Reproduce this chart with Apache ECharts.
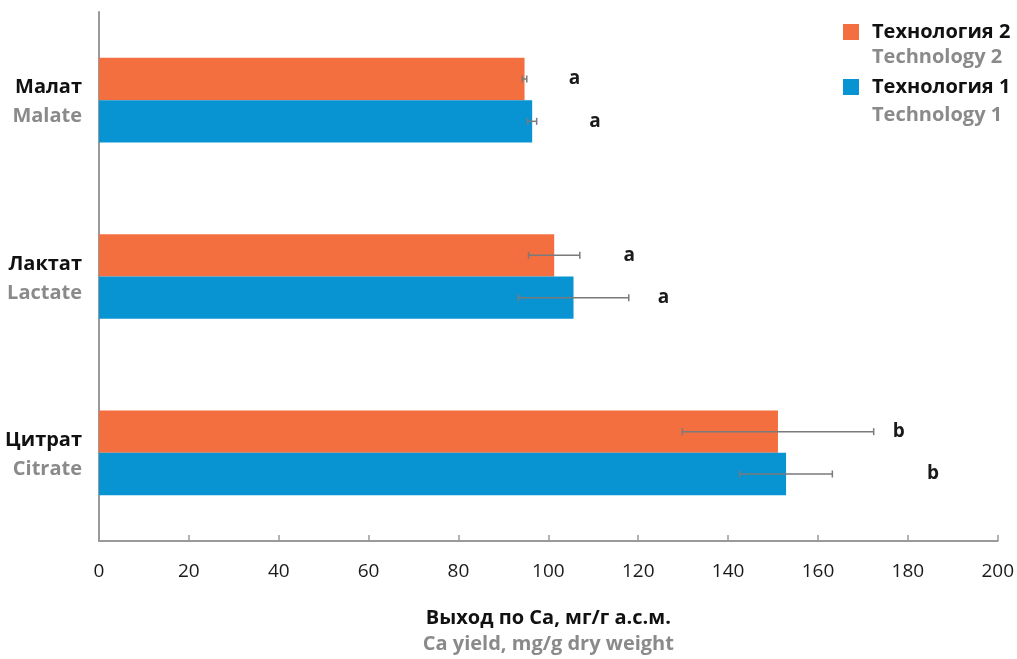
<!DOCTYPE html>
<html>
<head>
<meta charset="utf-8">
<script src="https://cdn.jsdelivr.net/npm/echarts@6/dist/echarts.min.js"></script>
<style>
html,body{margin:0;padding:0;background:#fff;}
#chart{width:1017px;height:659px;}
</style>
</head>
<body>
<div id="chart"></div>
<script>
// ---- data ----
const categoriesRu = ['Малат', 'Лактат', 'Цитрат'];
const categoriesEn = ['Malate', 'Lactate', 'Citrate'];
const seriesNamesRu = ['Технология 2', 'Технология 1'];
const seriesNamesEn = ['Technology 2', 'Technology 1'];
const tech2 = [94.7, 101.3, 151.1];
const tech2Err = [0.5, 5.7, 21.3];
const tech1 = [96.4, 105.6, 152.9];
const tech1Err = [1.0, 12.3, 10.3];
const tech2Letters = ['a', 'a', 'b'];
const tech2LetterPos = [105.8, 118, 178];
const tech1Letters = ['a', 'a', 'b'];
const tech1LetterPos = [110.4, 125.6, 185.6];
const xTicks = [0, 20, 40, 60, 80, 100, 120, 140, 160, 180, 200];
const axisTitleRu = 'Выход по Ca, мг/г а.с.м.';
const axisTitleEn = 'Ca yield, mg/g dry weight';

const ORANGE = '#F36F3F';
const BLUE = '#0893D2';
const FONT = '"Open Sans", "Noto Sans", sans-serif';
const BAND_OFFSET = 0.12; // fraction of category band between bar centers and band center

function errData(vals, errs) {
  return vals.map((v, i) => [v, errs[i], i]);
}
function letterData(pos, letters) {
  return pos.map((p, i) => [p, i, letters[i]]);
}

function makeErrRender(sign) {
  return function (params, api) {
    const v = api.value(0), e = api.value(1), idx = api.value(2);
    const band = api.size([0, 1])[1];
    const lo = api.coord([v - e, idx]);
    const hi = api.coord([v + e, idx]);
    const y = lo[1] + sign * band * BAND_OFFSET;
    const cap = 3.5;
    const style = { stroke: '#7a7a7a', lineWidth: 1.5 };
    return {
      type: 'group',
      children: [
        { type: 'line', shape: { x1: lo[0], y1: y, x2: hi[0], y2: y }, style },
        { type: 'line', shape: { x1: lo[0], y1: y - cap, x2: lo[0], y2: y + cap }, style },
        { type: 'line', shape: { x1: hi[0], y1: y - cap, x2: hi[0], y2: y + cap }, style }
      ]
    };
  };
}
function makeLetterRender(sign) {
  return function (params, api) {
    const p = api.coord([api.value(0), api.value(1)]);
    const band = api.size([0, 1])[1];
    return {
      type: 'text',
      style: {
        x: p[0], y: p[1] + sign * band * BAND_OFFSET,
        text: api.value(2),
        fill: '#1a1a1a', font: 'bold 19px ' + FONT,
        align: 'center', verticalAlign: 'middle'
      }
    };
  };
}

const chart = echarts.init(document.getElementById('chart'), null, { renderer: 'canvas' });
chart.setOption({
  backgroundColor: '#fff',
  animation: false,
  grid: { left: 99, right: 18, top: 12, bottom: 112, containLabel: false },
  legend: {
    data: seriesNamesRu,
    orient: 'vertical',
    left: 843, top: 21,
    padding: 0,
    itemWidth: 16, itemHeight: 16, itemGap: 33,
    icon: 'rect',
    textStyle: { fontFamily: FONT, fontWeight: 'bold', fontSize: 20, color: '#111', lineHeight: 22, padding: [0, 0, 0, 8] }
  },
  graphic: [
    { type: 'text', x: 872, y: 57, style: { text: seriesNamesEn[0], font: 'bold 20px ' + FONT, fill: '#8a8a8a', verticalAlign: 'middle' } },
    { type: 'text', x: 872, y: 115, style: { text: seriesNamesEn[1], font: 'bold 20px ' + FONT, fill: '#8a8a8a', verticalAlign: 'middle' } }
  ],
  xAxis: {
    type: 'value',
    min: xTicks[0], max: xTicks[xTicks.length - 1], interval: xTicks[1] - xTicks[0],
    axisLine: { show: true, lineStyle: { color: '#9a9a9a', width: 2 } },
    axisTick: { show: true, inside: true, length: 6, lineStyle: { color: '#9a9a9a', width: 1.5 } },
    splitLine: { show: false },
    axisLabel: { margin: 21, fontFamily: FONT, fontSize: 19, color: '#1a1a1a' },
    name: '{a|' + axisTitleRu + '}\n{b|' + axisTitleEn + '}',
    nameLocation: 'middle',
    nameGap: 64,
    nameTextStyle: {
      rich: {
        a: { fontFamily: FONT, fontWeight: 'bold', fontSize: 20, color: '#111', lineHeight: 26 },
        b: { fontFamily: FONT, fontWeight: 'bold', fontSize: 20, color: '#8a8a8a', lineHeight: 26 }
      }
    }
  },
  yAxis: {
    type: 'category',
    data: categoriesRu,
    inverse: true,
    axisLine: { show: true, lineStyle: { color: '#9a9a9a', width: 2 } },
    axisTick: { show: false },
    axisLabel: {
      margin: 17,
      align: 'right',
      padding: [4, 0, 0, 0],
      formatter: (v, i) => '{a|' + v + '}\n{b|' + categoriesEn[i] + '}',
      rich: {
        a: { fontFamily: FONT, fontWeight: 'bold', fontSize: 20, color: '#111', lineHeight: 29, align: 'right' },
        b: { fontFamily: FONT, fontWeight: 'bold', fontSize: 20, color: '#8a8a8a', lineHeight: 29, align: 'right' }
      }
    }
  },
  series: [
    { name: seriesNamesRu[0], type: 'bar', data: tech2, itemStyle: { color: ORANGE }, barGap: '0%', barCategoryGap: '52%' },
    { name: seriesNamesRu[1], type: 'bar', data: tech1, itemStyle: { color: BLUE }, barGap: '0%', barCategoryGap: '52%' },
    { type: 'custom', renderItem: makeErrRender(-1), data: errData(tech2, tech2Err), encode: { x: [0], y: 2 }, z: 5 },
    { type: 'custom', renderItem: makeErrRender(1), data: errData(tech1, tech1Err), encode: { x: [0], y: 2 }, z: 5 },
    { type: 'custom', renderItem: makeLetterRender(-1), data: letterData(tech2LetterPos, tech2Letters), encode: { x: 0, y: 1 }, z: 5 },
    { type: 'custom', renderItem: makeLetterRender(1), data: letterData(tech1LetterPos, tech1Letters), encode: { x: 0, y: 1 }, z: 5 }
  ]
});
</script>
</body>
</html>
